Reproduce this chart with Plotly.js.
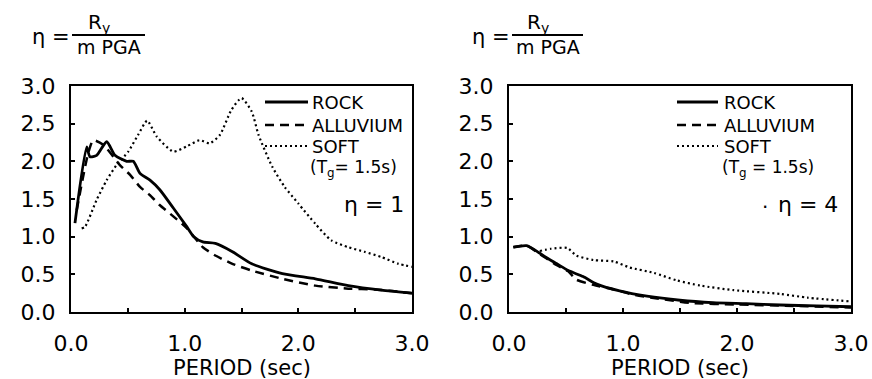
<!DOCTYPE html>
<html>
<head>
<meta charset="utf-8">
<script src="https://cdn.plot.ly/plotly-3.0.1.min.js"></script>
<style>html,body{margin:0;padding:0;background:#fff;}#chart{width:872px;height:379px;}</style>
</head>
<body>
<div id="chart"></div>
<script>
// ---- data ----
// Left panel: eta = 1
const rock1_T = [0.035, 0.138, 0.167, 0.226, 0.314, 0.387, 0.49, 0.548, 0.607, 0.695, 0.783, 0.9, 1.02, 1.08, 1.16, 1.27, 1.42, 1.59, 1.86, 2.15, 2.44, 2.73, 3.0];
const rock1_V = [1.18, 2.19, 2.06, 2.08, 2.26, 2.08, 2.0, 2.0, 1.84, 1.75, 1.62, 1.38, 1.13, 1.0, 0.93, 0.91, 0.80, 0.64, 0.51, 0.44, 0.35, 0.29, 0.25];
const allu1_T = [0.05, 0.15, 0.196, 0.284, 0.43, 0.52, 0.607, 0.695, 0.78, 0.9, 1.02, 1.16, 1.27, 1.42, 1.59, 1.86, 2.15, 2.44, 2.67, 3.0];
const allu1_V = [1.35, 2.1, 2.28, 2.22, 1.95, 1.82, 1.66, 1.55, 1.42, 1.27, 1.11, 0.86, 0.75, 0.64, 0.55, 0.44, 0.35, 0.31, 0.30, 0.25];
const soft1_T = [0.094, 0.123, 0.226, 0.314, 0.4, 0.504, 0.59, 0.67, 0.754, 0.9, 1.02, 1.13, 1.22, 1.31, 1.41, 1.5, 1.59, 1.65, 1.77, 1.88, 2.0, 2.15, 2.29, 2.44, 2.58, 2.73, 2.88, 3.0];
const soft1_V = [1.11, 1.13, 1.49, 1.75, 1.95, 2.13, 2.35, 2.54, 2.33, 2.13, 2.2, 2.28, 2.24, 2.35, 2.68, 2.84, 2.66, 2.35, 1.93, 1.66, 1.44, 1.17, 0.95, 0.86, 0.80, 0.73, 0.64, 0.60];
// Right panel: eta = 4
const rock4_T = [0.038, 0.155, 0.26, 0.33, 0.42, 0.52, 0.65, 0.77, 0.97, 1.21, 1.5, 1.79, 2.08, 2.38, 2.7, 3.0];
const rock4_V = [0.86, 0.88, 0.79, 0.72, 0.64, 0.55, 0.47, 0.37, 0.28, 0.21, 0.156, 0.124, 0.11, 0.093, 0.08, 0.07];
const allu4_T = [0.038, 0.155, 0.26, 0.33, 0.42, 0.52, 0.59, 0.74, 0.92, 1.09, 1.3, 1.59, 2.0, 2.5, 3.0];
const allu4_V = [0.86, 0.88, 0.78, 0.71, 0.62, 0.54, 0.43, 0.36, 0.30, 0.23, 0.18, 0.12, 0.10, 0.08, 0.06];
const soft4_T = [0.27, 0.37, 0.51, 0.59, 0.74, 0.92, 1.06, 1.27, 1.47, 1.68, 1.97, 2.38, 2.62, 3.0];
const soft4_V = [0.81, 0.84, 0.85, 0.75, 0.69, 0.67, 0.59, 0.52, 0.42, 0.35, 0.29, 0.24, 0.19, 0.14];

const xTicks = [0, 1, 2, 3];
const xTickText = ['0.0', '1.0', '2.0', '3.0'];
const yTicks = [0, 0.5, 1, 1.5, 2, 2.5, 3];
const yTickText = ['0.0', '0.5', '1.0', '1.5', '2.0', '2.5', '3.0'];
const legendNames = ['ROCK', 'ALLUVIUM', 'SOFT'];
const tgNote = ['(T<sub>g</sub>= 1.5s)', '(T<sub>g</sub> = 1.5s)'];
const etaLabels = ['η = 1', 'η = 4'];
const xTitle = 'PERIOD (sec)';

// ---- layout helpers ----
const W = 872, H = 379;
const px = v => v / W;
const py = v => 1 - v / H;
const FONT = 'DejaVu Sans, Liberation Sans, sans-serif';

const solid = {color: '#000', width: 2.8, dash: 'solid'};
const dashed = {color: '#000', width: 2.5, dash: '9px,6px'};
const dotted = {color: '#000', width: 2.2, dash: '2px,3px'};

const traces = [
  {x: rock1_T, y: rock1_V, xaxis: 'x', yaxis: 'y', line: solid},
  {x: allu1_T, y: allu1_V, xaxis: 'x', yaxis: 'y', line: dashed},
  {x: soft1_T, y: soft1_V, xaxis: 'x', yaxis: 'y', line: dotted},
  {x: rock4_T, y: rock4_V, xaxis: 'x2', yaxis: 'y2', line: solid},
  {x: allu4_T, y: allu4_V, xaxis: 'x2', yaxis: 'y2', line: dashed},
  {x: soft4_T, y: soft4_V, xaxis: 'x2', yaxis: 'y2', line: dotted}
].map(t => Object.assign(t, {mode: 'lines', showlegend: false, hoverinfo: 'skip',
  line: Object.assign({shape: 'spline', smoothing: 0.6}, t.line)}));

function xAxis(domain, anchor) {
  return {
    domain: domain, anchor: anchor, range: [0, 3], fixedrange: true,
    showline: true, linecolor: '#000', linewidth: 2, mirror: true,
    showgrid: false, zeroline: false,
    ticks: 'inside', ticklen: 4, tickwidth: 2, tickcolor: '#000',
    tickvals: xTicks, ticktext: xTickText, ticklabelstandoff: 11,
    minor: {tickvals: [0.5, 1.5, 2.5], ticks: 'inside', ticklen: 4, tickwidth: 2, tickcolor: '#000'},
    tickfont: {family: FONT, size: 22, color: '#000'}
  };
}
function yAxis(domain, anchor) {
  return {
    domain: domain, anchor: anchor, range: [0, 3], fixedrange: true,
    showline: true, linecolor: '#000', linewidth: 2, mirror: true,
    showgrid: false, zeroline: false,
    ticks: 'inside', ticklen: 4, tickwidth: 2, tickcolor: '#000',
    tickvals: yTicks, ticktext: yTickText, ticklabelstandoff: 9,
    tickfont: {family: FONT, size: 22, color: '#000'}
  };
}

const yDom = [py(312), py(86)];
const panels = [
  {x0: 71, x1: 412, legLine: [265, 308], legText: 310, eta: [342, 204], dot: null,
   fEta: 30, fLine: [72, 145]},
  {x0: 509, x1: 851, legLine: [677, 718], legText: 722, eta: [776, 204], dot: [765, 207],
   fEta: 470, fLine: [512, 583]}
];

const shapes = [], annotations = [];
const legY = [102, 125, 146];
const legStyles = [solid, dashed, dotted];
panels.forEach((p, i) => {
  legendNames.forEach((nm, k) => {
    shapes.push({type: 'line', xref: 'paper', yref: 'paper',
      x0: px(p.legLine[0]), x1: px(p.legLine[1]), y0: py(legY[k]), y1: py(legY[k]),
      line: legStyles[k]});
    annotations.push({xref: 'paper', yref: 'paper', x: px(p.legText), y: py(legY[k]),
      xanchor: 'left', yanchor: 'middle', showarrow: false, text: nm,
      font: {family: FONT, size: 18, color: '#000'}});
  });
  annotations.push({xref: 'paper', yref: 'paper', x: px(p.legText - 2), y: py(169),
    xanchor: 'left', yanchor: 'middle', showarrow: false, text: tgNote[i],
    font: {family: FONT, size: 17, color: '#000'}});
  annotations.push({xref: 'paper', yref: 'paper', x: px(p.eta[0]), y: py(p.eta[1]),
    xanchor: 'left', yanchor: 'middle', showarrow: false, text: etaLabels[i],
    font: {family: FONT, size: 22, color: '#000'}});
  if (p.dot) {
    annotations.push({xref: 'paper', yref: 'paper', x: px(p.dot[0]), y: py(p.dot[1]),
      xanchor: 'center', yanchor: 'middle', showarrow: false, text: '·',
      font: {family: FONT, size: 20, color: '#000'}});
  }
  // x-axis title
  annotations.push({xref: 'paper', yref: 'paper', x: px((p.x0 + p.x1) / 2), y: py(368),
    xanchor: 'center', yanchor: 'middle', showarrow: false, text: xTitle,
    font: {family: FONT, size: 21, color: '#000'}});
  // formula eta = Ry / (m PGA)
  annotations.push({xref: 'paper', yref: 'paper', x: px(p.fEta), y: py(37),
    xanchor: 'left', yanchor: 'middle', showarrow: false, text: 'η =',
    font: {family: FONT, size: 21, color: '#000'}});
  shapes.push({type: 'line', xref: 'paper', yref: 'paper',
    x0: px(p.fLine[0]), x1: px(p.fLine[1]), y0: py(35), y1: py(35),
    line: {color: '#000', width: 2}});
  annotations.push({xref: 'paper', yref: 'paper', x: px((p.fLine[0] + p.fLine[1]) / 2 - 10), y: py(23),
    xanchor: 'center', yanchor: 'middle', showarrow: false, text: 'R<sub>y</sub>',
    font: {family: FONT, size: 20, color: '#000'}});
  annotations.push({xref: 'paper', yref: 'paper', x: px((p.fLine[0] + p.fLine[1]) / 2), y: py(47),
    xanchor: 'center', yanchor: 'middle', showarrow: false, text: 'm PGA',
    font: {family: FONT, size: 19, color: '#000'}});
});

const layout = {
  width: W, height: H,
  margin: {l: 0, r: 0, t: 0, b: 0},
  paper_bgcolor: '#fff', plot_bgcolor: '#fff',
  showlegend: false,
  xaxis: xAxis([px(panels[0].x0), px(panels[0].x1)], 'y'),
  yaxis: yAxis(yDom, 'x'),
  xaxis2: xAxis([px(panels[1].x0), px(panels[1].x1)], 'y2'),
  yaxis2: yAxis(yDom, 'x2'),
  shapes: shapes,
  annotations: annotations
};

Plotly.newPlot('chart', traces, layout, {staticPlot: true, displayModeBar: false});
</script>
</body>
</html>
